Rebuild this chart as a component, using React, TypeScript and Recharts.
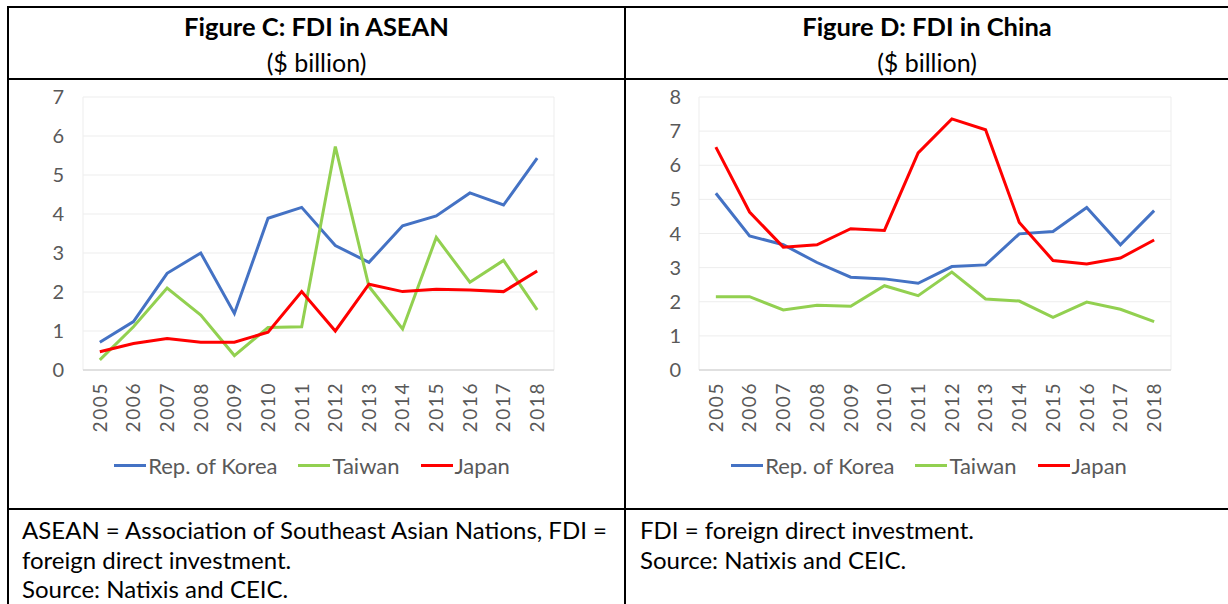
import {
  CartesianGrid,
  Legend,
  Line,
  LineChart,
  XAxis,
  YAxis,
} from "recharts"

const YEARS = [
  "2005", "2006", "2007", "2008", "2009", "2010", "2011",
  "2012", "2013", "2014", "2015", "2016", "2017", "2018",
]

// Figure C: FDI in ASEAN ($ billion)
const KOREA_ASEAN = [0.71, 1.24, 2.48, 3.0, 1.45, 3.89, 4.17, 3.19, 2.76, 3.7, 3.95, 4.54, 4.23, 5.43]
const TAIWAN_ASEAN = [0.26, 1.11, 2.1, 1.41, 0.37, 1.09, 1.11, 5.73, 2.14, 1.05, 3.4, 2.25, 2.81, 1.54]
const JAPAN_ASEAN = [0.47, 0.68, 0.81, 0.71, 0.71, 0.97, 2.01, 1.0, 2.2, 2.01, 2.07, 2.05, 2.01, 2.54]
const ASEAN_TICKS = [0, 1, 2, 3, 4, 5, 6, 7]

// Figure D: FDI in China ($ billion)
const KOREA_CHINA = [5.18, 3.93, 3.67, 3.15, 2.72, 2.67, 2.54, 3.03, 3.08, 3.99, 4.06, 4.76, 3.67, 4.67]
const TAIWAN_CHINA = [2.15, 2.15, 1.76, 1.9, 1.87, 2.47, 2.18, 2.87, 2.08, 2.02, 1.54, 1.99, 1.78, 1.42]
const JAPAN_CHINA = [6.53, 4.63, 3.6, 3.67, 4.14, 4.09, 6.36, 7.36, 7.04, 4.32, 3.21, 3.11, 3.28, 3.81]
const CHINA_TICKS = [0, 1, 2, 3, 4, 5, 6, 7, 8]

const SERIES_NAMES = ["Rep. of Korea", "Taiwan", "Japan"]

const KOREA_COLOR = "#4472C4"
const TAIWAN_COLOR = "#92D050"
const JAPAN_COLOR = "#FF0000"
const TICK_COLOR = "#595959"
const FONT = "Lato, 'Open Sans', sans-serif"

type ChartProps = {
  korea: number[]
  taiwan: number[]
  japan: number[]
  ticks: number[]
  width: number
  yAxisWidth: number
  marginRight: number
  tickGap: number
}

function YearTick(props: any) {
  const { x, y, payload } = props
  return (
    <text
      transform={`translate(${x},${y}) rotate(-90)`}
      textAnchor="end"
      dy="0.36em"
      fill={TICK_COLOR}
      fontSize={19}
      letterSpacing={1.6}
      fontFamily={FONT}
    >
      {payload.value}
    </text>
  )
}

function LegendRow(props: any) {
  const items = [...(props.payload ?? [])].sort(
    (a: any, b: any) => SERIES_NAMES.indexOf(a.value) - SERIES_NAMES.indexOf(b.value)
  )
  return (
    <div
      style={{
        display: "flex",
        justifyContent: "center",
        alignItems: "center",
        height: 24,
        fontFamily: FONT,
        fontSize: 22,
        color: TICK_COLOR,
      }}
    >
      {items.map((item: any, i: number) => (
        <div
          key={item.value}
          style={{ display: "flex", alignItems: "center", marginLeft: i ? 21 : 0 }}
        >
          <span
            style={{
              display: "inline-block",
              width: 32,
              height: 3,
              background: item.color,
              marginRight: 2,
            }}
          />
          <span>{item.value}</span>
        </div>
      ))}
    </div>
  )
}

function FdiChart({
  korea,
  taiwan,
  japan,
  ticks,
  width,
  yAxisWidth,
  marginRight,
  tickGap,
}: ChartProps) {
  const data = YEARS.map((year, i) => ({
    year,
    korea: korea[i],
    taiwan: taiwan[i],
    japan: japan[i],
  }))
  const half = (width - yAxisWidth - marginRight) / YEARS.length / 2

  return (
    <LineChart
      width={width}
      height={428}
      data={data}
      margin={{ top: 17, right: marginRight, left: 0, bottom: 31 }}
    >
      <CartesianGrid
        stroke="#EDEDED"
        strokeWidth={1}
        verticalCoordinatesGenerator={({ offset }: any) => [
          offset.left,
          offset.left + offset.width,
        ]}
      />
      <XAxis
        dataKey="year"
        interval={0}
        padding={{ left: half, right: half }}
        tickLine={false}
        axisLine={{ stroke: "#D9D9D9", strokeWidth: 1.5 }}
        tick={<YearTick />}
        tickSize={0}
        tickMargin={12}
        height={83}
      />
      <YAxis
        width={yAxisWidth}
        domain={[0, ticks[ticks.length - 1]]}
        ticks={ticks}
        interval={0}
        tickLine={false}
        axisLine={false}
        tickSize={0}
        tickMargin={tickGap}
        tick={{ fontSize: 20, fill: TICK_COLOR, fontFamily: FONT }}
      />
      <Legend
        verticalAlign="bottom"
        content={<LegendRow />}
        wrapperStyle={{ left: 0, width: 606 }}
      />
      <Line
        type="linear"
        dataKey="korea"
        name={SERIES_NAMES[0]}
        stroke={KOREA_COLOR}
        strokeWidth={3}
        dot={false}
        isAnimationActive={false}
      />
      <Line
        type="linear"
        dataKey="taiwan"
        name={SERIES_NAMES[1]}
        stroke={TAIWAN_COLOR}
        strokeWidth={3}
        dot={false}
        isAnimationActive={false}
      />
      <Line
        type="linear"
        dataKey="japan"
        name={SERIES_NAMES[2]}
        stroke={JAPAN_COLOR}
        strokeWidth={3}
        dot={false}
        isAnimationActive={false}
      />
    </LineChart>
  )
}

const rule = (style: React.CSSProperties): React.CSSProperties => ({
  position: "absolute",
  background: "#000",
  ...style,
})

const titleStyle: React.CSSProperties = {
  position: "absolute",
  textAlign: "center",
  fontFamily: FONT,
  color: "#000",
  whiteSpace: "nowrap",
  lineHeight: "30px",
}

const noteStyle: React.CSSProperties = {
  position: "absolute",
  top: 515,
  fontFamily: FONT,
  fontSize: 24,
  lineHeight: "29.5px",
  color: "#000",
  whiteSpace: "nowrap",
}

export default function App() {
  return (
    <div
      style={{
        position: "absolute",
        left: 0,
        top: 0,
        width: 1228,
        height: 604,
        background: "#fff",
        overflow: "hidden",
      }}
    >
      {/* table rules */}
      <div style={rule({ left: 7, top: 6, width: 1221, height: 2 })} />
      <div style={rule({ left: 7, top: 78, width: 1221, height: 2 })} />
      <div style={rule({ left: 7, top: 508, width: 1221, height: 2 })} />
      <div style={rule({ left: 7, top: 6, width: 2, height: 598 })} />
      <div style={rule({ left: 624, top: 6, width: 2, height: 598 })} />

      {/* titles */}
      <div style={{ ...titleStyle, left: 9, width: 615, top: 11, fontSize: 25.5, fontWeight: 700 }}>
        Figure C: FDI in ASEAN
      </div>
      <div style={{ ...titleStyle, left: 9, width: 615, top: 47, fontSize: 25 }}>
        ($ billion)
      </div>
      <div style={{ ...titleStyle, left: 626, width: 602, top: 11, fontSize: 25.5, fontWeight: 700 }}>
        Figure D: FDI in China
      </div>
      <div style={{ ...titleStyle, left: 626, width: 602, top: 47, fontSize: 25 }}>
        ($ billion)
      </div>

      {/* charts */}
      <div style={{ position: "absolute", left: 9, top: 80 }}>
        <FdiChart
          korea={KOREA_ASEAN}
          taiwan={TAIWAN_ASEAN}
          japan={JAPAN_ASEAN}
          ticks={ASEAN_TICKS}
          width={615}
          yAxisWidth={74}
          marginRight={70}
          tickGap={19}
        />
      </div>
      <div style={{ position: "absolute", left: 626, top: 80 }}>
        <FdiChart
          korea={KOREA_CHINA}
          taiwan={TAIWAN_CHINA}
          japan={JAPAN_CHINA}
          ticks={CHINA_TICKS}
          width={602}
          yAxisWidth={73}
          marginRight={57}
          tickGap={18}
        />
      </div>

      {/* notes */}
      <div style={{ ...noteStyle, left: 22 }}>
        ASEAN = Association of Southeast Asian Nations, FDI =
        <br />
        foreign direct investment.
        <br />
        Source: Natixis and CEIC.
      </div>
      <div style={{ ...noteStyle, left: 640 }}>
        FDI = foreign direct investment.
        <br />
        Source: Natixis and CEIC.
      </div>
    </div>
  )
}
